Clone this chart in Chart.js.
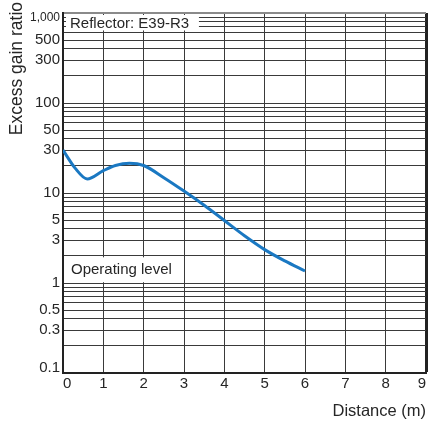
<!DOCTYPE html>
<html>
<head>
<meta charset="utf-8">
<script src="https://cdn.jsdelivr.net/npm/chart.js@4"></script>
<style>
  html, body { margin: 0; padding: 0; background: #fff; }
  #wrap { width: 428px; height: 425px; }
</style>
</head>
<body>
<div id="wrap"><canvas id="c" width="428" height="425"></canvas></div>
<script>
// ---- data ----
const distances = [0, 0.3, 0.6, 1, 1.3, 1.65, 2, 2.5, 3, 3.5, 4, 4.5, 5, 5.5, 6];
const gainRatio = [30, 18.9, 14.3, 17.7, 20.2, 21.4, 20.2, 14.8, 10.5, 7.3, 4.95, 3.35, 2.35, 1.76, 1.36];
const xTickValues = [0, 1, 2, 3, 4, 5, 6, 7, 8, 9];
const yDecades = [0.1, 1, 10, 100];
const yMultipliers = [1, 2, 3, 4, 5, 6, 7, 8, 9];
const yLabelValues = [0.1, 0.3, 0.5, 1, 3, 5, 10, 30, 50, 100, 300, 500, 1000];
const yLabelTexts = ['0.1', '0.3', '0.5', '1', '3', '5', '10', '30', '50', '100', '300', '500', '1,000'];
const xTitle = 'Distance (m)';
const yTitle = 'Excess gain ratio';
const reflectorText = 'Reflector: E39-R3';
const operatingText = 'Operating level';

const yTickValues = [];
yDecades.forEach(d => yMultipliers.forEach(m => yTickValues.push(+(m * d).toPrecision(6))));
yTickValues.push(1000);

const FONT = "'Liberation Sans', Arial, Helvetica, sans-serif";
const TEXT = '#262626';
const GRID = '#3a3a3a';

function labelFor(v) {
  const i = yLabelValues.findIndex(l => Math.abs(l - v) / l < 1e-6);
  return i < 0 ? '' : yLabelTexts[i];
}

const boxes = {
  id: 'boxes',
  beforeDatasetsDraw(chart) {
    const { ctx, chartArea: a, scales } = chart;
    ctx.save();
    ctx.fillStyle = '#fff';
    // Reflector box
    const rx1 = scales.x.getPixelForValue(3.37);
    const ry2 = scales.y.getPixelForValue(640);
    ctx.fillRect(a.left + 3, a.top + 2, rx1 - a.left - 3, ry2 - a.top - 2);
    // Operating level box
    const ox1 = scales.x.getPixelForValue(2.85);
    const oy1 = scales.y.getPixelForValue(1.93);
    const oy2 = scales.y.getPixelForValue(1.02);
    ctx.fillRect(a.left + 3, oy1, ox1 - a.left - 3, oy2 - oy1);
    ctx.fillStyle = TEXT;
    ctx.font = '15px ' + FONT;
    ctx.textBaseline = 'middle';
    ctx.textAlign = 'left';
    ctx.fillText(reflectorText, a.left + 7, (a.top + ry2) / 2 + 2);
    ctx.fillText(operatingText, a.left + 8, (oy1 + oy2) / 2);
    ctx.restore();
  },
  afterDraw(chart) {
    const { ctx } = chart;
    ctx.save();
    ctx.translate(17.5, 2);
    ctx.rotate(-Math.PI / 2);
    ctx.fillStyle = TEXT;
    ctx.font = '17.5px ' + FONT;
    ctx.textAlign = 'right';
    ctx.textBaseline = 'middle';
    ctx.fillText(yTitle, 0, 0);
    ctx.restore();
  }
};

new Chart(document.getElementById('c'), {
  type: 'line',
  data: {
    datasets: [{
      data: distances.map((d, i) => ({ x: d, y: gainRatio[i] })),
      borderColor: '#1a78c2',
      borderWidth: 3,
      pointRadius: 0,
      cubicInterpolationMode: 'monotone',
      fill: false
    }]
  },
  options: {
    responsive: false,
    animation: false,
    layout: { padding: { top: 10, right: 2, left: 0, bottom: 0 } },
    plugins: { legend: { display: false }, tooltip: { enabled: false } },
    scales: {
      x: {
        type: 'linear',
        min: 0, max: 9,
        afterBuildTicks: s => { s.ticks = xTickValues.map(v => ({ value: v })); },
        afterFit: s => { s.height = 52; },
        ticks: {
          color: TEXT,
          font: { family: FONT, size: 15 },
          padding: 2,
          align: 'inner',
          maxRotation: 0,
          autoSkip: false
        },
        grid: {
          drawTicks: false,
          color: ctx => ctx.tick && ctx.tick.value === 9 ? '#222' : GRID,
          lineWidth: ctx => ctx.tick && ctx.tick.value === 9 ? 3 : 1
        },
        border: { color: '#222', width: 2 },
        title: {
          display: true, text: xTitle, align: 'end', color: TEXT,
          font: { family: FONT, size: 16.5 },
          padding: { top: 0, bottom: 3.5 }
        }
      },
      y: {
        type: 'logarithmic',
        min: 0.1, max: 1000,
        afterBuildTicks: s => { s.ticks = yTickValues.map(v => ({ value: v })); },
        afterFit: s => { s.width = 63; },
        ticks: {
          color: TEXT,
          autoSkip: false,
          padding: 3,
          font: ctx => {
            const v = ctx.tick ? ctx.tick.value : 0;
            if (v === 1000) return { family: FONT, size: 12, lineHeight: '10px' };
            if (v === 0.1) return { family: FONT, size: 15, lineHeight: '10px' };
            return { family: FONT, size: 15 };
          },
          callback: v => {
            const t = labelFor(v);
            if (v === 1000) return ['', t];
            if (v === 0.1) return [t, ''];
            return t;
          }
        },
        grid: {
          drawTicks: false,
          color: ctx => ctx.tick && ctx.tick.value === 1000 ? '#8a8a8a' : GRID,
          lineWidth: ctx => ctx.tick && ctx.tick.value === 1000 ? 2 : 1
        },
        border: { color: '#222', width: 2 },
        title: { display: false }
      }
    }
  },
  plugins: [boxes]
});
</script>
</body>
</html>
